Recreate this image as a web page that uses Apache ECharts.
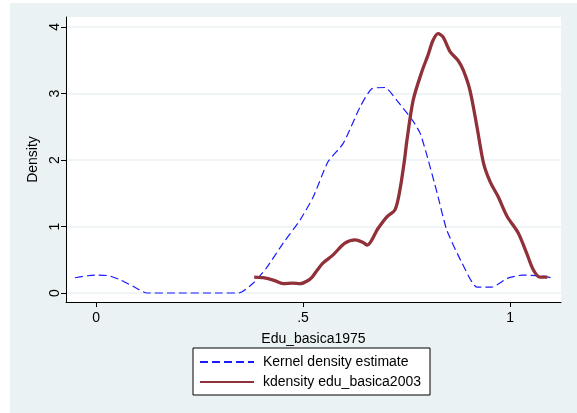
<!DOCTYPE html>
<html>
<head>
<meta charset="utf-8">
<script src="https://cdn.jsdelivr.net/npm/echarts@6/dist/echarts.min.js"></script>
<style>
html,body{margin:0;padding:0;background:#fff;}
#chart{width:577px;height:413px;}
</style>
</head>
<body>
<div id="chart"></div>
<script>
// Kernel density estimate (Edu_basica1975)
const x1975 = [-0.051,-0.02,0.0,0.03,0.058,0.09,0.123,0.2,0.3,0.345,0.38,0.413,0.452,0.493,0.525,0.56,0.597,0.638,0.666,0.698,0.726,0.764,0.783,0.8,0.824,0.847,0.884,0.92,0.956,0.993,1.03,1.07,1.1];
const y1975 = [0.23,0.26,0.27,0.26,0.2,0.1,0.0,0.0,0.0,0.0,0.15,0.39,0.75,1.1,1.45,1.97,2.25,2.8,3.07,3.09,2.9,2.6,2.4,2.05,1.5,0.95,0.45,0.09,0.09,0.22,0.27,0.26,0.23];
// kdensity edu_basica2003
const x2003 = [0.382,0.404,0.43,0.452,0.475,0.493,0.51,0.522,0.535,0.548,0.572,0.601,0.626,0.645,0.655,0.681,0.703,0.722,0.734,0.745,0.751,0.766,0.787,0.802,0.814,0.826,0.838,0.855,0.874,0.887,0.903,0.92,0.936,0.952,0.971,0.993,1.02,1.04,1.056,1.072,1.09];
const y2003 = [0.24,0.23,0.19,0.14,0.15,0.14,0.18,0.24,0.35,0.45,0.57,0.75,0.8,0.76,0.72,0.97,1.15,1.25,1.55,2.0,2.3,2.9,3.33,3.58,3.8,3.9,3.85,3.63,3.5,3.35,3.05,2.5,1.95,1.67,1.45,1.15,0.9,0.6,0.35,0.24,0.24];
const xTicks = [0, 0.5, 1];
const xTickLabels = ['0', '.5', '1'];
const yTicks = [0, 1, 2, 3, 4];
const yTickLabels = ['0', '1', '2', '3', '4'];
const seriesNames = ['Kernel density estimate', 'kdensity edu_basica2003'];
const xTitle = 'Edu_basica1975';
const yTitle = 'Density';

const FONT = '"Liberation Sans", Arial, sans-serif';
const pair = (xs, ys) => xs.map((v, i) => [v, ys[i]]);

const chart = echarts.init(document.getElementById('chart'), null, {renderer: 'canvas'});
chart.setOption({
  animation: false,
  backgroundColor: '#ffffff',
  graphic: [{
    type: 'rect', z: -10, silent: true,
    shape: {x: 10, y: 3, width: 567, height: 410},
    style: {fill: '#eaf2f3'}
  }],
  grid: {
    left: 66, top: 17, width: 495, height: 285,
    show: true, backgroundColor: '#ffffff', borderWidth: 0
  },
  xAxis: {
    type: 'value', min: -0.0725, max: 1.123,
    name: xTitle, nameLocation: 'middle', nameGap: 30,
    nameTextStyle: {fontFamily: FONT, fontSize: 14, color: '#000'},
    axisLine: {show: true, onZero: false, lineStyle: {color: '#000', width: 1}},
    axisTick: {show: true, length: 5, customValues: xTicks, lineStyle: {color: '#000'}},
    axisLabel: {
      customValues: xTicks, margin: 9, fontFamily: FONT, fontSize: 14, color: '#000',
      formatter: v => { const i = xTicks.findIndex(t => Math.abs(t - v) < 1e-9); return i >= 0 ? xTickLabels[i] : ''; }
    },
    splitLine: {show: false}
  },
  yAxis: {
    type: 'value', min: -0.135, max: 4.15,
    name: yTitle, nameLocation: 'middle', nameGap: 22, nameRotate: 90,
    nameTextStyle: {fontFamily: FONT, fontSize: 14, color: '#000'},
    axisLine: {show: true, onZero: false, lineStyle: {color: '#000', width: 1}},
    axisTick: {show: true, length: 5, customValues: yTicks, lineStyle: {color: '#000'}},
    axisLabel: {
      customValues: yTicks, rotate: 90, margin: 4, fontFamily: FONT, fontSize: 14, color: '#000',
      formatter: v => { const i = yTicks.findIndex(t => Math.abs(t - v) < 1e-9); return i >= 0 ? yTickLabels[i] : ''; }
    },
    splitLine: {show: true, lineStyle: {color: '#eaf2f3', width: 1.5}}
  },
  legend: {
    orient: 'vertical', left: 193, top: 348,
    backgroundColor: '#ffffff', borderColor: '#000', borderWidth: 1,
    padding: [7, 9, 6, 6], itemWidth: 54, itemHeight: 14, itemGap: 6,
    itemStyle: {opacity: 0, borderWidth: 0},
    textStyle: {fontFamily: FONT, fontSize: 14, color: '#000', padding: [0, 0, 0, 4]},
    data: seriesNames
  },
  series: [
    {
      name: seriesNames[0], type: 'line', data: pair(x1975, y1975),
      showSymbol: false, symbol: 'none', smooth: 0.2, clip: true,
      lineStyle: {color: '#1a1aff', width: 1.2, type: [8, 4]},
      itemStyle: {color: '#1a1aff'}
    },
    {
      name: seriesNames[1], type: 'line', data: pair(x2003, y2003),
      showSymbol: false, symbol: 'none', smooth: 0.3, clip: true,
      lineStyle: {color: '#903038', width: 3.3},
      itemStyle: {color: '#903038'}
    }
  ]
});
</script>
</body>
</html>
